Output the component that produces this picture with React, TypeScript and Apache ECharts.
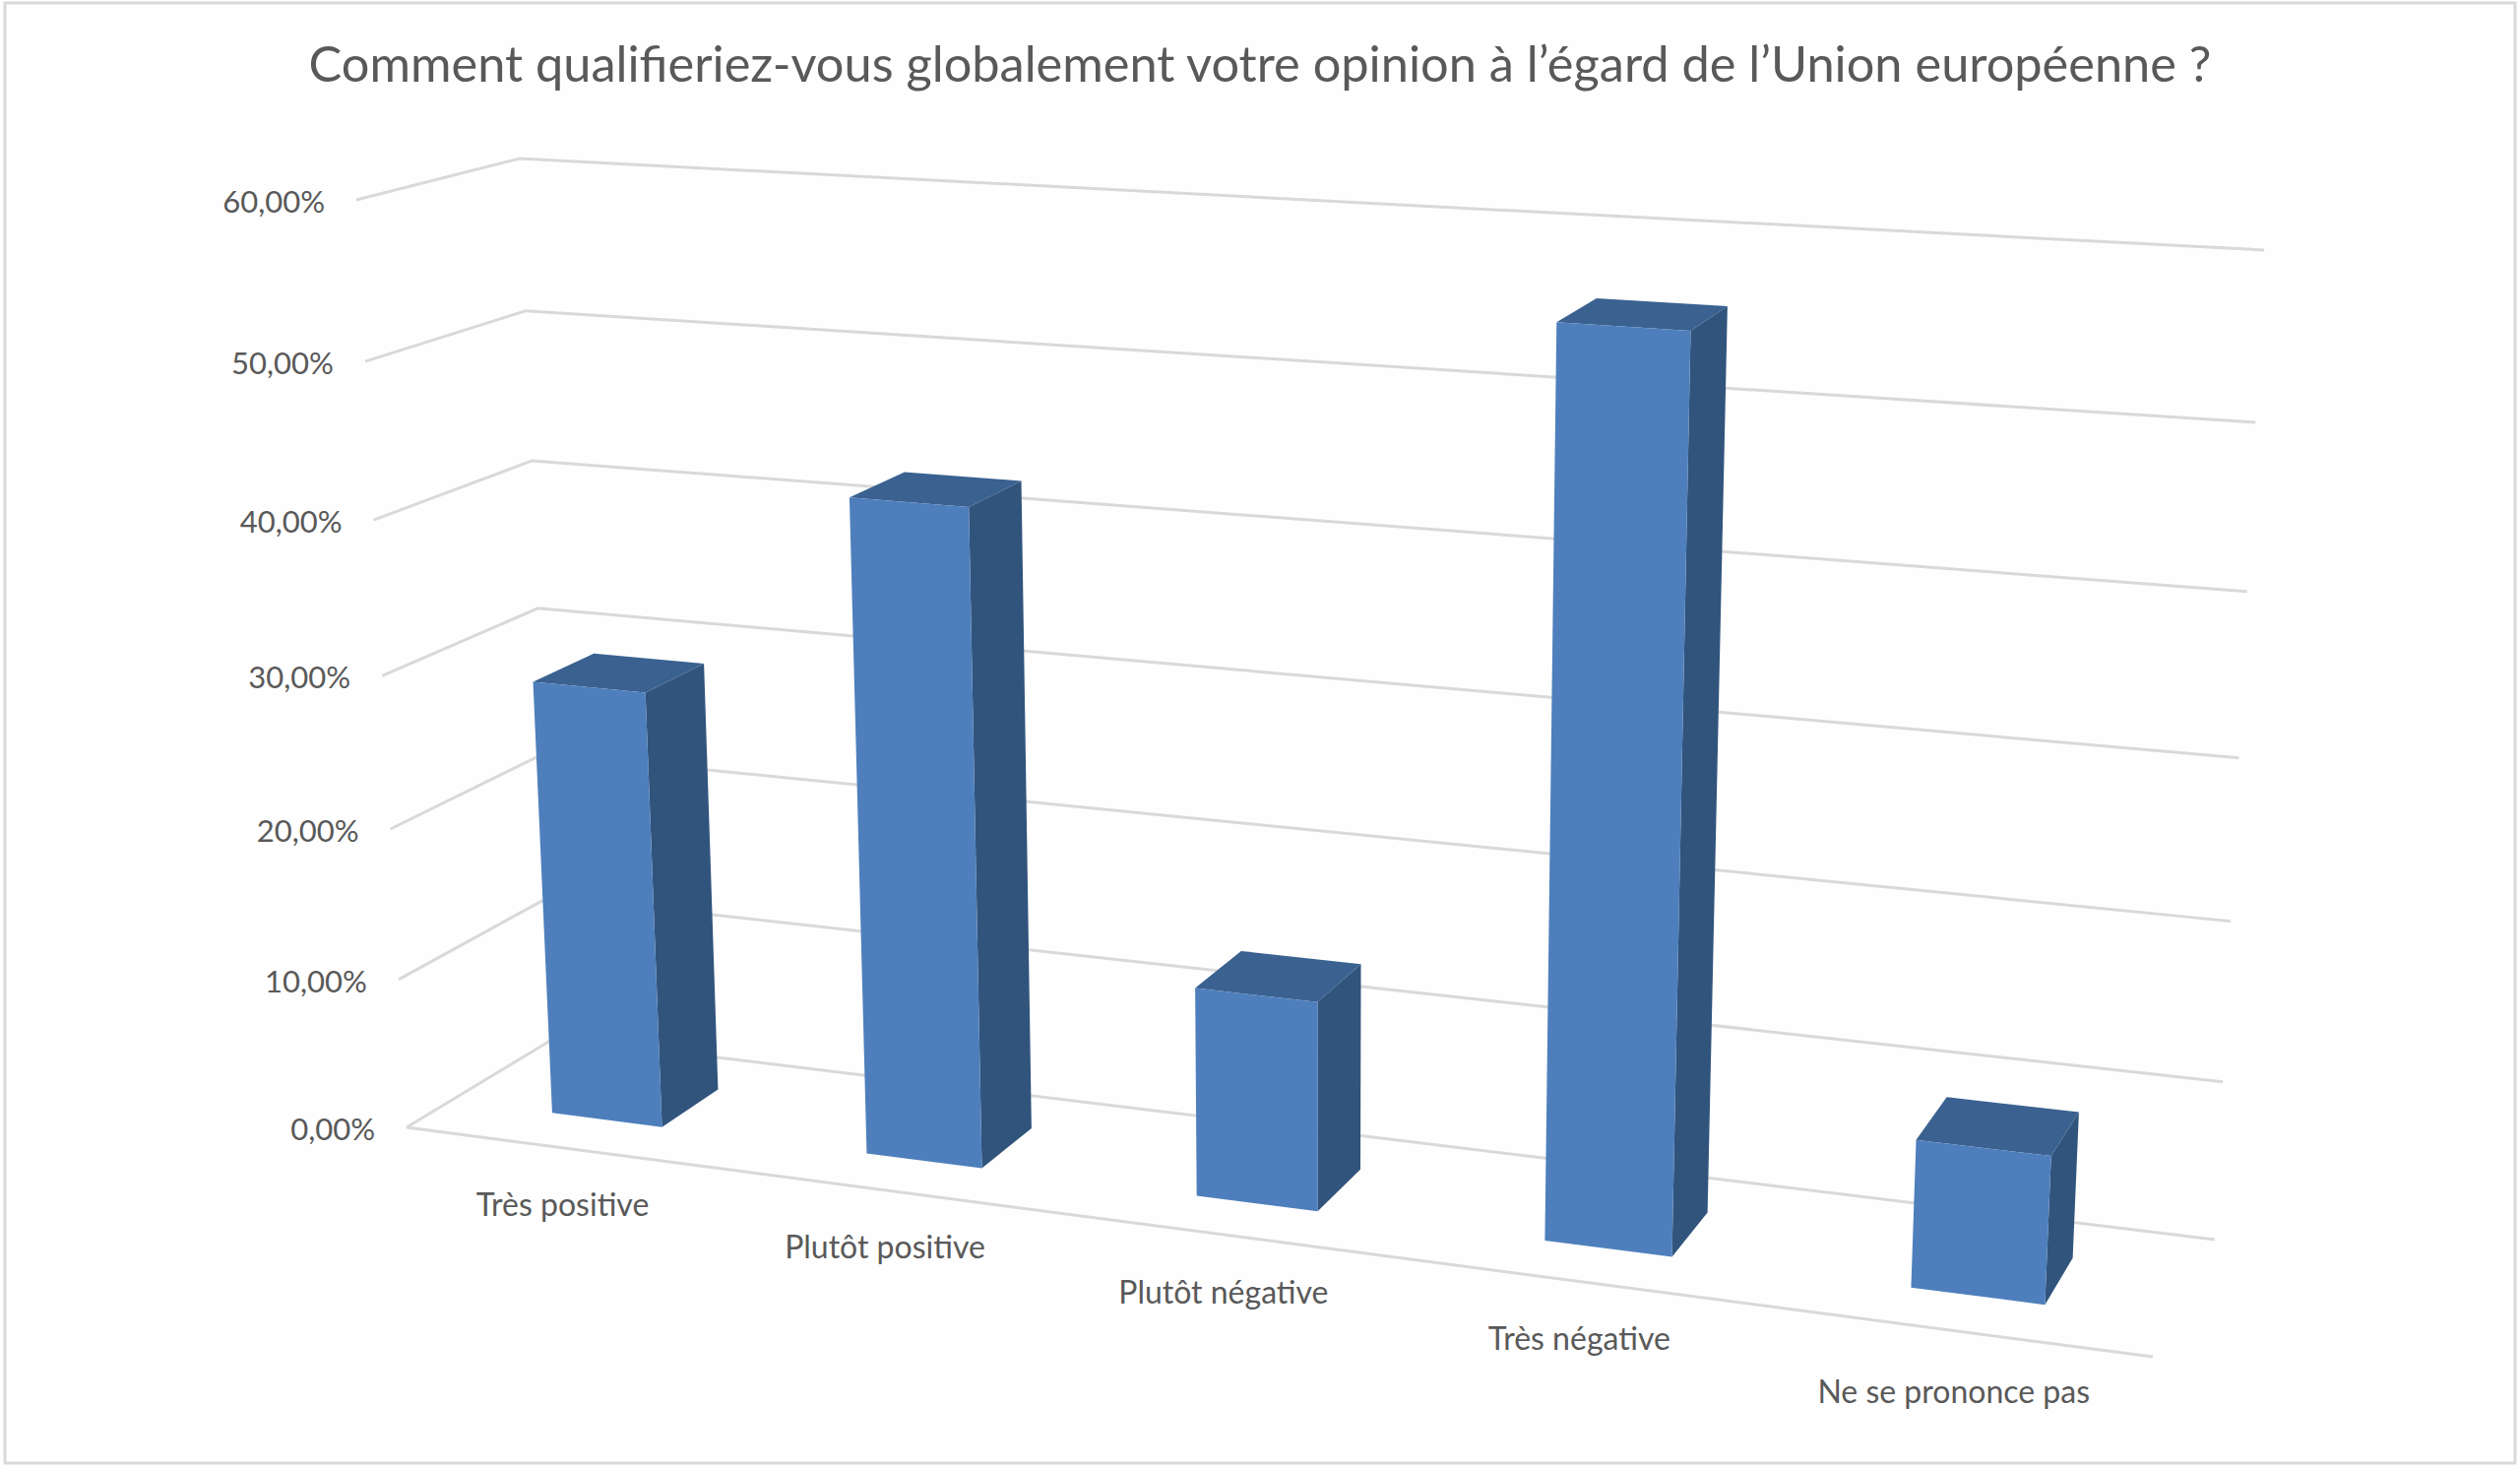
import React, { useEffect, useRef } from "react";
import * as echarts from "echarts";

const TITLE = "Comment qualifieriez-vous globalement votre opinion à l’égard de l’Union européenne ?";
const categories = ["Très positive", "Plutôt positive", "Plutôt négative", "Très négative", "Ne se prononce pas"];
const values = [28.9, 42.5, 13.5, 56.1, 9.2];
const yTicks = [0, 10, 20, 30, 40, 50, 60];
const yTickLabels = ["0,00%", "10,00%", "20,00%", "30,00%", "40,00%", "50,00%", "60,00%"];

const W = 2560;
const H = 1492;
const FONT = "Lato";
const TEXT = "#595959";

type P = [number, number];
function homography(p0: P, p1: P, p2: P, p3: P) {
  const sx = p0[0] - p1[0] + p2[0] - p3[0];
  const sy = p0[1] - p1[1] + p2[1] - p3[1];
  const dx1 = p1[0] - p2[0], dy1 = p1[1] - p2[1];
  const dx2 = p3[0] - p2[0], dy2 = p3[1] - p2[1];
  const den = dx1 * dy2 - dx2 * dy1;
  const g = (sx * dy2 - dx2 * sy) / den;
  const h = (dx1 * sy - sx * dy1) / den;
  const a = p1[0] - p0[0] + g * p1[0], b = p3[0] - p0[0] + h * p3[0];
  const d = p1[1] - p0[1] + g * p1[1], e = p3[1] - p0[1] + h * p3[1];
  return (u: number, v: number): P => {
    const w = 1 + g * u + h * v;
    return [(a * u + b * v + p0[0]) / w, (d * u + e * v + p0[1]) / w];
  };
}
const frontWall = homography([413, 1145], [2187, 1378], [2239, 318], [362, 203]);
const backWall = homography([564, 1054], [2250, 1259], [2300, 254], [528, 161]);

// pixel from the hidden grid (the library's scales) -> perspective picture
function project(px: number, py: number, z: number): P {
  const u = px / W;
  const v = 1 - py / H;
  const f = frontWall(u, v);
  const b = backWall(u, v);
  return [f[0] + (b[0] - f[0]) * z, f[1] + (b[1] - f[1]) * z];
}

const Z1 = 0.305;
const Z2 = 0.71;
const HALF_BAND = 0.1765; // half of the bar width as a share of a category band
const bandShift = (i: number) => Math.max(-0.005, 0.004 - 0.0045 * i);

export default function App() {
  const ref = useRef<HTMLDivElement>(null);
  useEffect(() => {
    const chart = echarts.init(ref.current!, undefined, { renderer: "svg" });
    const option: any = {
      animation: false,
      backgroundColor: "#fefefe",
      title: {
        text: TITLE,
        left: "center",
        top: 33,
        textStyle: { fontFamily: FONT, fontSize: 50.5, fontWeight: 400, color: TEXT },
      },
      grid: { left: 0, top: 0, width: W, height: H },
      xAxis: { type: "category", data: categories, show: false },
      yAxis: { type: "value", min: 0, max: 60, interval: 10, show: false },
      graphic: [
        {
          type: "rect",
          shape: { x: 5, y: 3, width: 2550, height: 1483 },
          style: { fill: "none", stroke: "#d9d9d9", lineWidth: 3 },
          silent: true,
        },
      ],
      series: [
        {
          type: "custom",
          name: "grid",
          coordinateSystem: "cartesian2d",
          data: yTicks.map((t, i) => [0, t, i]),
          encode: { x: 0, y: 1 },
          renderItem: (_p: any, api: any) => {
            const t = api.value(1);
            const y = api.coord([0, t])[1];
            const a = project(0, y, 0);
            const b = project(0, y, 1);
            const c = project(W, y, 1);
            const children: any[] = [
              {
                type: "polyline",
                shape: { points: [a, b, c] },
                style: { fill: "none", stroke: "#d9d9d9", lineWidth: 3 },
              },
              {
                type: "text",
                style: {
                  x: a[0] - 32,
                  y: a[1] + 1,
                  text: yTickLabels[api.value(2)],
                  fontFamily: FONT,
                  fontSize: 31,
                  fill: TEXT,
                  align: "right",
                  verticalAlign: "middle",
                },
              },
            ];
            if (t === 0) {
              const d = project(W, y, 0);
              children.push({
                type: "line",
                shape: { x1: a[0], y1: a[1], x2: d[0], y2: d[1] },
                style: { stroke: "#d9d9d9", lineWidth: 3 },
              });
            }
            return { type: "group", children };
          },
        },
        {
          type: "custom",
          name: "bars",
          coordinateSystem: "cartesian2d",
          data: values.map((v, i) => [i, v]),
          encode: { x: 0, y: 1 },
          renderItem: (_p: any, api: any) => {
            const i = api.value(0);
            const top = api.coord([i, api.value(1)]);
            const base = api.coord([i, 0]);
            const band = api.size([1, 0])[0];
            const x1 = top[0] + band * (bandShift(i) - HALF_BAND);
            const x2 = top[0] + band * (bandShift(i) + HALF_BAND);
            const fTL = project(x1, top[1], Z1);
            const fTR = project(x2, top[1], Z1);
            const fBR = project(x2, base[1], Z1);
            const fBL = project(x1, base[1], Z1);
            const bTL = project(x1, top[1], Z2);
            const bTR = project(x2, top[1], Z2);
            const bBR = project(x2, base[1], Z2);
            return {
              type: "group",
              children: [
                { type: "polygon", shape: { points: [fTR, bTR, bBR, fBR] }, style: { fill: "#31547c" } },
                { type: "polygon", shape: { points: [fTL, bTL, bTR, fTR] }, style: { fill: "#3a6190" } },
                { type: "polygon", shape: { points: [fTL, fTR, fBR, fBL] }, style: { fill: "#4e7fbc" } },
              ],
            };
          },
        },
        {
          type: "custom",
          name: "categories",
          coordinateSystem: "cartesian2d",
          data: categories.map((_c, i) => [i, 0]),
          encode: { x: 0, y: 1 },
          renderItem: (_p: any, api: any) => {
            const i = api.value(0);
            const c = api.coord([i, 0]);
            const p = project(c[0], c[1], 0);
            return {
              type: "text",
              style: {
                x: p[0] - i,
                y: p[1] + 57 + (i === 4 ? 4 : 0),
                text: categories[i],
                fontFamily: FONT,
                fontSize: 32,
                fill: TEXT,
                align: "center",
                verticalAlign: "middle",
              },
            };
          },
        },
      ],
    };
    chart.setOption(option);
    return () => chart.dispose();
  }, []);
  return <div ref={ref} style={{ position: "absolute", left: 0, top: 0, width: W, height: H }} />;
}
